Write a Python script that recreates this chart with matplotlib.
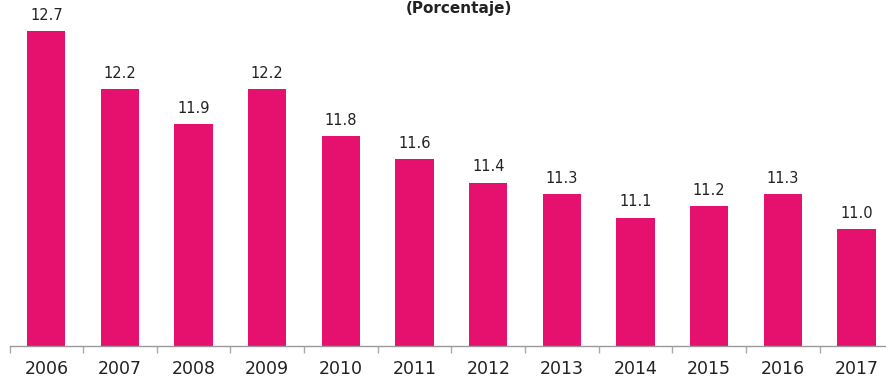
import matplotlib.pyplot as plt

plt.rcParams['font.family'] = ['DejaVu Sans']

years = ['2006', '2007', '2008', '2009', '2010', '2011',
         '2012', '2013', '2014', '2015', '2016', '2017']
values = [12.7, 12.2, 11.9, 12.2, 11.8, 11.6, 11.4, 11.3, 11.1, 11.2, 11.3, 11.0]

bar_color = '#E6106F'

fig = plt.figure(figsize=(8.86, 3.81), dpi=100)
ax = fig.add_axes([9.5 / 886, 35 / 381, 1 - 9.5 / 886, 346 / 381])

x = list(range(len(years)))
ax.bar(x, [v - 10.0 for v in values], bottom=10.0, width=0.52, color=bar_color, zorder=2)

for xi, v in zip(x, values):
    ax.text(xi, v + 0.07, f'{v:.1f}', ha='center', va='bottom', fontsize=10.5, color='#222222')

ax.set_xlim(-0.5, 11.4)
ax.set_ylim(10.0, 12.965)

for s in ['top', 'right', 'left']:
    ax.spines[s].set_visible(False)
ax.spines['bottom'].set_color('#999999')
ax.spines['bottom'].set_linewidth(1.0)

ax.set_yticks([])
ax.set_xticks([i + 0.5 for i in range(-1, 11)], minor=False)
ax.set_xticklabels([])
ax.tick_params(axis='x', which='major', length=5, color='#aaaaaa', width=1)
ax.set_xticks(x, minor=True)
ax.set_xticklabels(years, minor=True, fontsize=12.5, color='#222222')
ax.tick_params(axis='x', which='minor', length=0, pad=10)

fig.text(459 / 886, 1 - 9 / 381, '(Porcentaje)', ha='center', va='center',
         fontsize=11, fontweight='bold', color='#222222')

fig.savefig('out.png', dpi=100)
